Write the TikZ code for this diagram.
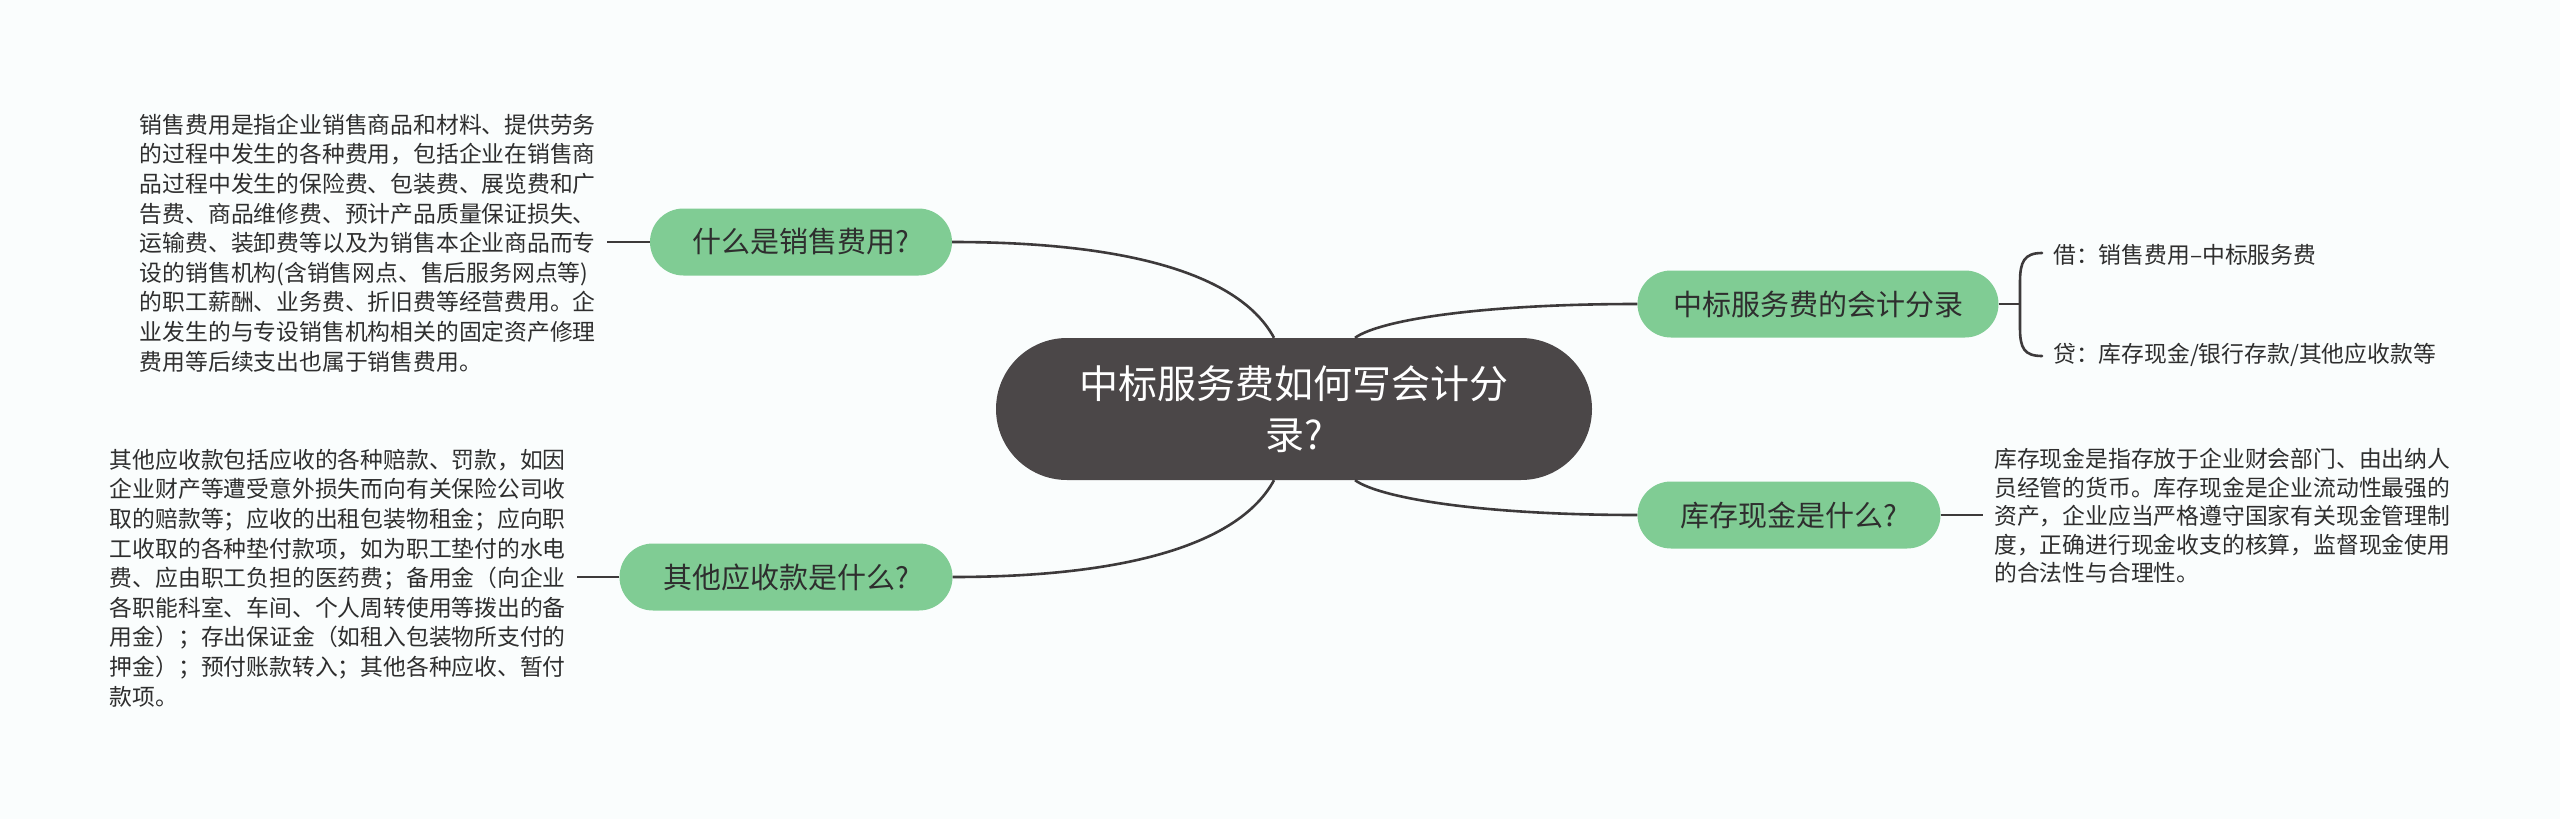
\documentclass[tikz,border=0pt]{standalone}
\usepackage{fontspec}
\setmainfont{Noto Sans CJK SC}
\usetikzlibrary{calc}
\definecolor{bgc}{HTML}{FAFDFD}
\definecolor{greenc}{HTML}{80CC94}
\definecolor{darkc}{HTML}{4B4748}
\definecolor{linec}{HTML}{3D3A3B}
\definecolor{txtc}{HTML}{2E2E2E}
\tikzset{
  rootbox/.style={fill=darkc, text=white, rounded corners=71pt, minimum width=596pt, minimum height=142pt, inner sep=0pt, align=center, font=\fontsize{39}{51}\selectfont},
  topicbox/.style={fill=greenc, text=txtc, minimum height=67pt, inner sep=0pt, rounded corners=33.5pt, font=\fontsize{29}{34}\selectfont},
  bodytext/.style={text=txtc, align=left, inner xsep=11pt, inner ysep=0pt, font=\fontsize{22.8}{29.6}\selectfont},
  conn/.style={draw=linec, line width=2.6pt},
}
\begin{document}
\begin{tikzpicture}[x=1pt, y=-1pt]
\useasboundingbox (0,0) rectangle (2560,819);
\fill[bgc] (0,0) rectangle (2560,819);

% root
\node[rootbox] (root) at (1294,409) {中标服务费如何写会计分\\录?};

% topics
\node[topicbox, minimum width=302pt] (n1) at (801,242) {什么是销售费用?};
\node[topicbox, minimum width=333pt] (n2) at (786,577) {其他应收款是什么?};
\node[topicbox, minimum width=361pt] (n3) at (1818,304) {中标服务费的会计分录};
\node[topicbox, minimum width=303pt] (n4) at (1789,515) {库存现金是什么?};

% body texts
\node[bodytext, anchor=east] (t1) at (607,243) {销售费用是指企业销售商品和材料、提供劳务\\的过程中发生的各种费用，包括企业在销售商\\品过程中发生的保险费、包装费、展览费和广\\告费、商品维修费、预计产品质量保证损失、\\运输费、装卸费等以及为销售本企业商品而专\\设的销售机构(含销售网点、售后服务网点等)\\的职工薪酬、业务费、折旧费等经营费用。企\\业发生的与专设销售机构相关的固定资产修理\\费用等后续支出也属于销售费用。};
\node[bodytext, anchor=east] (t2) at (577,578) {其他应收款包括应收的各种赔款、罚款，如因\\企业财产等遭受意外损失而向有关保险公司收\\取的赔款等；应收的出租包装物租金；应向职\\工收取的各种垫付款项，如为职工垫付的水电\\费、应由职工负担的医药费；备用金（向企业\\各职能科室、车间、个人周转使用等拨出的备\\用金）；存出保证金（如租入包装物所支付的\\押金）；预付账款转入；其他各种应收、暂付\\款项。};
\node[bodytext, anchor=west, font=\fontsize{22.8}{28.5}\selectfont] (t4) at (1983,516) {库存现金是指存放于企业财会部门、由出纳人\\员经管的货币。库存现金是企业流动性最强的\\资产，企业应当严格遵守国家有关现金管理制\\度，正确进行现金收支的核算，监督现金使用\\的合法性与合理性。};

\node[bodytext, anchor=west, inner xsep=0pt] (d1) at (2053,255) {借：销售费用–中标服务费};
\node[bodytext, anchor=west, inner xsep=0pt] (d2) at (2053,355) {贷：库存现金/银行存款/其他应收款等};

% connectors root -> topics
\draw[conn] (n1.east) .. controls (1130,242) and (1240,275) .. ($(root.north)+(-20,0)$);
\draw[conn] ($(root.south)+(-20,0)$) .. controls (1240,543) and (1130,577) .. (n2.east);
\draw[conn] ($(root.north)+(61,0)$) .. controls (1380,320) and (1480,304) .. (n3.west);
\draw[conn] ($(root.south)+(61,0)$) .. controls (1380,498) and (1480,515) .. (n4.west);

% topic -> texts
\draw[conn] (n1.west) -- (t1.east |- n1.west);
\draw[conn] (n2.west) -- (t2.east |- n2.west);
\draw[conn] (n4.east) -- (t4.west |- n4.east);

% brace
\coordinate (bk) at (2020,304);
\draw[conn] (n3.east) -- (bk);
\draw[conn, line cap=round] ($(d1.west)+(-11,-2)$) .. controls (2024,253) and (2020,262) .. (2020,282) -- (2020,328) .. controls (2020,348) and (2024,356) .. ($(d2.west)+(-11,1)$);
\end{tikzpicture}
\end{document}
